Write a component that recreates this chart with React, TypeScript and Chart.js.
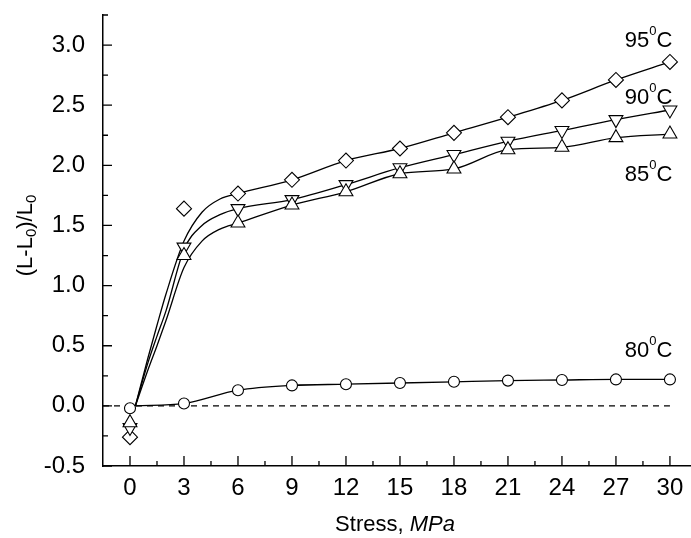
import { useEffect, useRef } from 'react';
import { Chart, registerables } from 'chart.js';

Chart.register(...registerables);

// ---- data ----
const stress = [0, 3, 6, 9, 12, 15, 18, 21, 24, 27, 30];
const marks80 = [-0.02, 0.02, 0.13, 0.17, 0.18, 0.19, 0.2, 0.21, 0.215, 0.22, 0.22];
const marks85 = [-0.14, 1.25, 1.52, 1.67, 1.78, 1.93, 1.97, 2.13, 2.15, 2.23, 2.26];
const marks90 = [-0.18, 1.32, 1.64, 1.715, 1.84, 1.98, 2.09, 2.2, 2.29, 2.38, 2.46];
const marks95 = [-0.26, 1.64, 1.765, 1.88, 2.04, 2.14, 2.27, 2.4, 2.54, 2.71, 2.86];

// fitted curves
const curve80X = [0.3, 3, 6, 9, 12, 15, 18, 21, 24, 27, 30];
const curve80Y = [0, 0.02, 0.13, 0.17, 0.18, 0.19, 0.2, 0.21, 0.215, 0.22, 0.22];
const curveX = [0.3, 1, 1.5, 2, 3, 4, 5, 6, 9, 12, 15, 18, 21, 24, 27, 30];
const curve85Y = [0, 0.3, 0.5, 0.71, 1.15, 1.37, 1.47, 1.52, 1.67, 1.78, 1.93, 1.97, 2.13, 2.15, 2.23, 2.26];
const curve90Y = [0, 0.36, 0.58, 0.79, 1.3, 1.5, 1.59, 1.64, 1.715, 1.84, 1.98, 2.09, 2.2, 2.29, 2.38, 2.46];
const curve95Y = [0, 0.4, 0.67, 0.93, 1.37, 1.61, 1.72, 1.765, 1.88, 2.04, 2.14, 2.27, 2.4, 2.54, 2.71, 2.86];

const baselineX = [-1.5, 30];
const baselineY = [0, 0];

const xTicks = [0, 3, 6, 9, 12, 15, 18, 21, 24, 27, 30];
const yTicks = [-0.5, 0, 0.5, 1, 1.5, 2, 2.5, 3];
const xRange = [-1.5, 31.17];
const yRange = [-0.5, 3.25];

const seriesNames = ['80', '85', '90', '95'];
const labelX = 30.14;
const labelY = [0.41, 1.87, 2.51, 2.98];

const FONT = '"Liberation Sans", Arial, Helvetica, sans-serif';

const pts = (xs: number[], ys: number[]) => xs.map((x, i) => ({ x, y: ys[i] }));

type Piece = { t: string; font: string; dy: number };

function drawPieces(ctx: CanvasRenderingContext2D, pieces: Piece[], x: number, y: number, align: 'left' | 'right' | 'center') {
  let total = 0;
  const widths = pieces.map((p) => {
    ctx.font = p.font;
    const w = ctx.measureText(p.t).width;
    total += w;
    return w;
  });
  let cx = align === 'right' ? x - total : align === 'center' ? x - total / 2 : x;
  ctx.textAlign = 'left';
  ctx.textBaseline = 'alphabetic';
  pieces.forEach((p, i) => {
    ctx.font = p.font;
    ctx.fillText(p.t, cx, y + p.dy);
    cx += widths[i];
  });
}

const overlay = {
  id: 'overlay',
  afterDraw(chart: any) {
    const ctx: CanvasRenderingContext2D = chart.ctx;
    const xs = chart.scales.x;
    const ys = chart.scales.y;
    const area = chart.chartArea;
    ctx.save();
    ctx.strokeStyle = '#000';
    ctx.fillStyle = '#000';
    ctx.lineWidth = 1.3;
    ctx.beginPath();
    // y ticks (inward)
    const ystep = yTicks[1] - yTicks[0];
    yTicks.forEach((v) => {
      const p = ys.getPixelForValue(v);
      ctx.moveTo(area.left, p);
      ctx.lineTo(area.left + 9, p);
      const m = ys.getPixelForValue(v + ystep / 2);
      if (m >= area.top) {
        ctx.moveTo(area.left, m);
        ctx.lineTo(area.left + 5, m);
      }
    });
    const xstep = xTicks[1] - xTicks[0];
    xTicks.forEach((v) => {
      const p = xs.getPixelForValue(v);
      ctx.moveTo(p, area.bottom);
      ctx.lineTo(p, area.bottom - 10);
      const m = xs.getPixelForValue(v + xstep / 2);
      if (m <= area.right) {
        ctx.moveTo(m, area.bottom);
        ctx.lineTo(m, area.bottom - 5);
      }
    });
    ctx.stroke();

    // x title
    drawPieces(
      ctx,
      [
        { t: 'Stress, ', font: `22px ${FONT}`, dy: 0 },
        { t: 'MPa', font: `italic 22px ${FONT}`, dy: 0 },
      ],
      (area.left + area.right) / 2 - 2,
      531,
      'center'
    );

    // y title (rotated)
    ctx.save();
    ctx.translate(32, (area.top + area.bottom) / 2 - 5);
    ctx.rotate(-Math.PI / 2);
    drawPieces(
      ctx,
      [
        { t: '(L-L', font: `22px ${FONT}`, dy: 0 },
        { t: '0', font: `15px ${FONT}`, dy: 4 },
        { t: ')/L', font: `22px ${FONT}`, dy: 0 },
        { t: '0', font: `15px ${FONT}`, dy: 4 },
      ],
      0,
      0,
      'center'
    );
    ctx.restore();

    // series labels
    seriesNames.forEach((name, i) => {
      const px = xs.getPixelForValue(labelX);
      const py = ys.getPixelForValue(labelY[i]);
      drawPieces(
        ctx,
        [
          { t: name, font: `22px ${FONT}`, dy: 0 },
          { t: '0', font: `13px ${FONT}`, dy: -12 },
          { t: 'C', font: `22px ${FONT}`, dy: 0 },
        ],
        px,
        py,
        'right'
      );
    });
    ctx.restore();
  },
};

export default function App() {
  const ref = useRef<HTMLCanvasElement | null>(null);

  useEffect(() => {
    if (!ref.current) return;
    const markerBase = {
      type: 'line' as const,
      showLine: false,
      pointBackgroundColor: '#fff',
      pointBorderColor: '#000',
      pointBorderWidth: 1.1,
      order: 0,
    };
    const curveBase = {
      type: 'line' as const,
      borderColor: '#000',
      borderWidth: 1.3,
      pointRadius: 0,
      cubicInterpolationMode: 'monotone' as const,
      fill: false,
      order: 1,
    };
    const chart = new Chart(ref.current, {
      type: 'line',
      data: {
        datasets: [
          { ...markerBase, label: '80', data: pts(stress, marks80), pointStyle: 'circle', pointRadius: 5.5 },
          { ...markerBase, label: '85', data: pts(stress, marks85), pointStyle: 'triangle', pointRadius: 8 },
          { ...markerBase, label: '90', data: pts(stress, marks90), pointStyle: 'triangle', pointRotation: 180, pointRadius: 8 },
          { ...markerBase, label: '95', data: pts(stress, marks95), pointStyle: 'rectRot', pointRadius: 7.5 },
          { ...curveBase, label: 'c80', data: pts(curve80X, curve80Y) },
          { ...curveBase, label: 'c85', data: pts(curveX, curve85Y) },
          { ...curveBase, label: 'c90', data: pts(curveX, curve90Y) },
          { ...curveBase, label: 'c95', data: pts(curveX, curve95Y) },
          {
            type: 'line',
            label: 'zero',
            data: pts(baselineX, baselineY),
            borderColor: '#000',
            borderWidth: 1.2,
            borderDash: [6, 5],
            pointRadius: 0,
            order: 2,
          },
        ],
      } as any,
      options: {
        animation: false,
        responsive: false,
        devicePixelRatio: 1,
        layout: { autoPadding: false, padding: { top: 15, left: 0, right: 0, bottom: 0 } },
        plugins: { legend: { display: false }, tooltip: { enabled: false }, title: { display: false } },
        scales: {
          x: {
            type: 'linear',
            min: xRange[0],
            max: xRange[1],
            grid: { display: false },
            border: { display: true, color: '#000', width: 1.5 },
            afterBuildTicks: (s: any) => {
              s.ticks = xTicks.map((v) => ({ value: v }));
            },
            afterFit: (s: any) => {
              s.height = 72;
              s.paddingLeft = 0;
              s.paddingRight = 0;
              s.paddingTop = 0;
              s.paddingBottom = 0;
            },
            ticks: {
              color: '#000',
              font: { family: FONT, size: 24 },
              padding: 0,
              maxRotation: 0,
              autoSkip: false,
              callback: (v: any) => String(v),
            },
          },
          y: {
            type: 'linear',
            min: yRange[0],
            max: yRange[1],
            grid: { display: false },
            border: { display: true, color: '#000', width: 1.5 },
            afterBuildTicks: (s: any) => {
              s.ticks = yTicks.map((v) => ({ value: v }));
            },
            afterFit: (s: any) => {
              s.width = 103;
              s.paddingLeft = 0;
              s.paddingRight = 0;
              s.paddingTop = 0;
              s.paddingBottom = 0;
            },
            ticks: {
              color: '#000',
              font: { family: FONT, size: 24 },
              padding: 10,
              autoSkip: false,
              callback: (v: any) => Number(v).toFixed(1),
            },
          },
        },
      } as any,
      plugins: [overlay],
    });
    return () => chart.destroy();
  }, []);

  return (
    <div style={{ position: 'absolute', left: 0, top: 0, width: 691, height: 538, background: '#fff' }}>
      <canvas ref={ref} width={691} height={538} />
    </div>
  );
}
